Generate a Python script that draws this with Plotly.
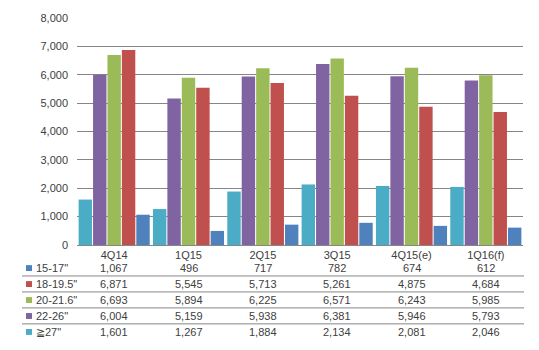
import plotly.graph_objects as go

categories = ["4Q14", "1Q15", "2Q15", "3Q15", "4Q15(e)", "1Q16(f)"]
s15_17 = [1067, 496, 717, 782, 674, 612]
s18_19 = [6871, 5545, 5713, 5261, 4875, 4684]
s20_21 = [6693, 5894, 6225, 6571, 6243, 5985]
s22_26 = [6004, 5159, 5938, 6381, 5946, 5793]
s27 = [1601, 1267, 1884, 2134, 2081, 2046]

series_names = ['15-17"', '18-19.5"', '20-21.6"', '22-26"', '≧27"']
series_values = [s15_17, s18_19, s20_21, s22_26, s27]
colors = ["#4F81BD", "#C0504D", "#9BBB59", "#8064A2", "#4BACC6"]

FONT = "Liberation Sans, Arial, sans-serif"
TXT = "#404040"

fig = go.Figure()
# bars drawn in reverse series order (>=27" first, leftmost)
for name, vals, col in reversed(list(zip(series_names, series_values, colors))):
    fig.add_trace(go.Bar(x=categories, y=vals, name=name, marker_color=col,
                         marker_line_width=0, showlegend=False))

W, H = 539, 350
mt, mb, ml, mr = 14, 105, 77, 16
ph = H - mt - mb

def py(p):
    return (H - mb - p) / ph

def px(p):
    return (p - ml) / (W - ml - mr)

row0 = 268.5
step = 16.25
annotations = []
shapes = []
for i, (name, vals, col) in enumerate(zip(series_names, series_values, colors)):
    yc = row0 + step * i
    for c, v in zip(categories, vals):
        annotations.append(dict(x=c, xref="x", y=py(yc), yref="paper",
                                text=f"{v:,}", showarrow=False,
                                xanchor="center", yanchor="middle",
                                font=dict(family=FONT, size=11, color=TXT)))
    annotations.append(dict(x=px(34), xref="paper", y=py(yc), yref="paper",
                            text=name, showarrow=False,
                            xanchor="left", yanchor="middle",
                            font=dict(family=FONT, size=11, color=TXT)))
    shapes.append(dict(type="rect", xref="paper", yref="paper",
                       x0=px(26), x1=px(32), y0=py(yc - 3), y1=py(yc + 3),
                       fillcolor=col, line_width=0))
    if i < 4:
        yl = row0 + step * i + 8
        shapes.append(dict(type="line", xref="paper", yref="paper",
                           x0=px(22), x1=px(524), y0=py(yl), y1=py(yl),
                           line=dict(color="#868686", width=1)))

fig.update_layout(
    width=W, height=H,
    margin=dict(l=ml, r=mr, t=mt, b=mb),
    paper_bgcolor="white", plot_bgcolor="white",
    barmode="group", bargap=0.03, bargroupgap=0.07,
    font=dict(family=FONT, size=11, color=TXT),
    annotations=annotations, shapes=shapes,
    xaxis=dict(showline=True, linecolor="#868686", linewidth=1, ticks="",
               showgrid=False, tickfont=dict(family=FONT, size=11, color=TXT)),
    yaxis=dict(range=[0, 8000], dtick=1000, tickformat=",", showgrid=True,
               gridcolor="#868686", gridwidth=1, zeroline=False, ticks="",
               ticklabelstandoff=8,
               tickfont=dict(family=FONT, size=11, color=TXT)),
)

fig.write_html("out.html")
